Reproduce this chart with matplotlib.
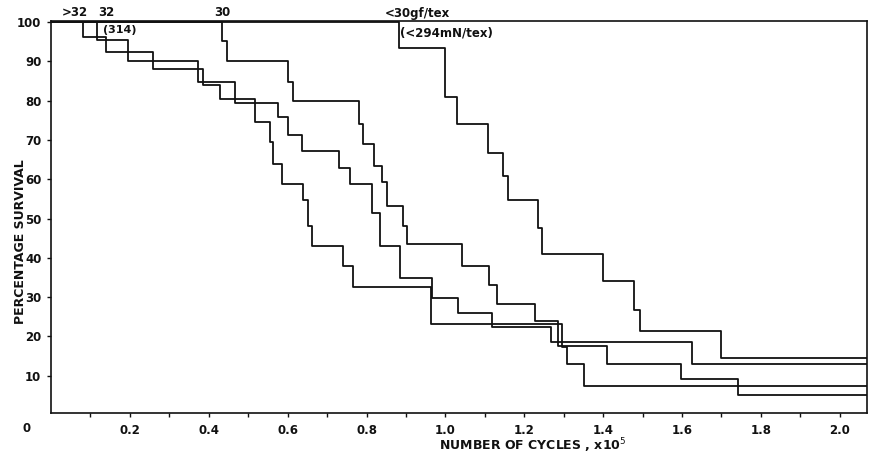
# ================= IMPORT LIBRARIES =================
import matplotlib.pyplot as plt

# ================= DATA =================
# failure steps: number of cycles (x 1e5) and percentage survival after each drop
gt32_x = [0.081, 0.139, 0.259, 0.385, 0.429, 0.517, 0.555, 0.563, 0.586, 0.640,
          0.652, 0.662, 0.740, 0.766, 0.963, 1.296, 1.308, 1.351]
gt32_y = [96.2, 92.3, 88.0, 83.9, 80.4, 74.5, 69.4, 63.8, 58.9, 54.6,
          48.2, 42.9, 38.0, 32.7, 23.2, 17.3, 13.0, 7.4]

t32_x = [0.117, 0.195, 0.373, 0.467, 0.576, 0.601, 0.636, 0.730, 0.758, 0.814,
         0.834, 0.885, 0.965, 1.032, 1.118, 1.268, 1.625]
t32_y = [95.4, 90.1, 84.7, 79.3, 75.8, 71.2, 67.1, 62.8, 58.9, 51.5,
         42.9, 34.9, 29.8, 26.0, 22.4, 18.6, 13.0]

t30_x = [0.434, 0.446, 0.601, 0.613, 0.781, 0.791, 0.819, 0.839, 0.852, 0.893,
         0.903, 1.042, 1.111, 1.131, 1.228, 1.286, 1.410, 1.597, 1.742]
t30_y = [95.2, 90.1, 84.7, 79.9, 74.0, 69.1, 63.3, 59.2, 53.1, 48.0,
         43.4, 38.0, 33.2, 28.3, 24.0, 17.6, 13.0, 9.2, 5.1]

lt30_x = [0.882, 0.999, 1.030, 1.108, 1.146, 1.159, 1.235, 1.245, 1.399, 1.479,
          1.493, 1.699]
lt30_y = [93.4, 80.9, 74.0, 66.8, 60.9, 54.6, 47.7, 41.1, 34.0, 26.8,
          21.4, 14.5]

x_ticks = [0.2, 0.4, 0.6, 0.8, 1.0, 1.2, 1.4, 1.6, 1.8, 2.0]
x_minor = [0.1, 0.3, 0.5, 0.7, 0.9, 1.1, 1.3, 1.5, 1.7, 1.9]
y_ticks = [10, 20, 30, 40, 50, 60, 70, 80, 90, 100]

X_MAX = 2.069
INK = "#111111"

# ================= FIGURE =================
plt.rcParams["font.family"] = "DejaVu Sans"
fig = plt.figure(figsize=(8.71, 4.58), dpi=100)
ax = fig.add_axes([0.0586, 0.0983, 0.9368, 0.8559])

for xs, ys in [(gt32_x, gt32_y), (t32_x, t32_y), (t30_x, t30_y), (lt30_x, lt30_y)]:
    x = [0] + xs + [X_MAX]
    y = [100] + ys + [ys[-1]]
    ax.step(x, y, where="post", color=INK, lw=1.3)

ax.set_xlim(0, X_MAX)
ax.set_ylim(0.5, 100.3)

# ================= AXES STYLE =================
for s in ax.spines.values():
    s.set_linewidth(1.2)
    s.set_color(INK)

ax.set_xticks(x_ticks)
ax.set_xticklabels([f"{v:.1f}" for v in x_ticks])
ax.set_xticks(x_minor, minor=True)
ax.set_yticks(y_ticks)
ax.set_yticklabels([str(v) for v in y_ticks])
ax.tick_params(axis="both", which="both", direction="out", length=3, width=1,
               color=INK, labelcolor=INK, labelsize=8.5)
ax.tick_params(axis="x", pad=5)
ax.tick_params(axis="y", pad=4)
for lab in ax.get_xticklabels() + ax.get_yticklabels():
    lab.set_fontweight("bold")

# origin label
fig.text(27 / 871, 1 - 428 / 458, "0", ha="center", va="center",
         fontsize=8.5, fontweight="bold", color=INK)

# axis titles
fig.text(533 / 871, 1 - 446 / 458, r"NUMBER OF CYCLES , x10$^{5}$", ha="center",
         va="center", fontsize=9, fontweight="bold", color=INK)
fig.text(20 / 871, 1 - 242 / 458, "PERCENTAGE SURVIVAL", ha="center", va="center",
         rotation=90, fontsize=9, fontweight="bold", color=INK)

# ================= CURVE LABELS =================
fig.text(75 / 871, 1 - 13 / 458, ">32", ha="center", va="center",
         fontsize=8.5, fontweight="bold", color=INK)
fig.text(106 / 871, 1 - 13 / 458, "32", ha="center", va="center",
         fontsize=8.5, fontweight="bold", color=INK)
fig.text(103 / 871, 1 - 30 / 458, "(314)", ha="left", va="center",
         fontsize=8, fontweight="bold", color=INK)
fig.text(222 / 871, 1 - 13 / 458, "30", ha="center", va="center",
         fontsize=8.5, fontweight="bold", color=INK)
fig.text(385 / 871, 1 - 14 / 458, "<30gf/tex", ha="left", va="center",
         fontsize=8.5, fontweight="bold", color=INK)
fig.text(400 / 871, 1 - 33 / 458, "(<294mN/tex)", ha="left", va="center",
         fontsize=8.5, fontweight="bold", color=INK)

# ================= SAVE =================
fig.savefig("out.png", dpi=100)
